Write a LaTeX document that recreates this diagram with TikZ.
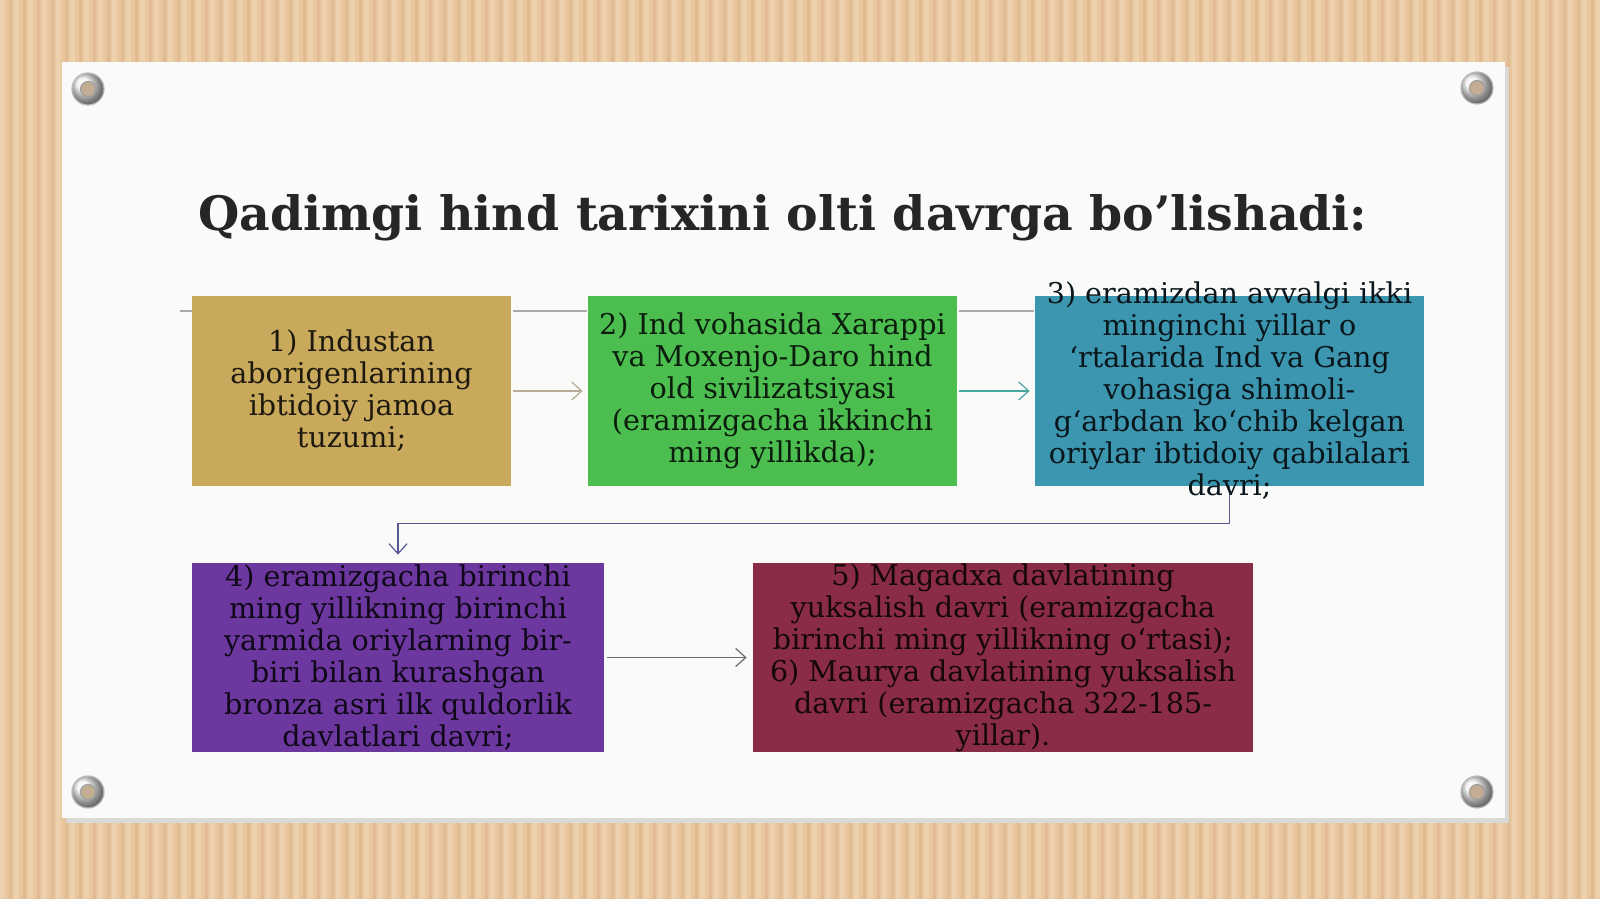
\documentclass[tikz,border=0pt]{standalone}
\usepackage{fontspec}
\setmainfont{DejaVu Serif}
\usepackage{tikz}
\usetikzlibrary{arrows.meta, positioning, calc}

\definecolor{wood}{RGB}{232,198,158}
\definecolor{woodlight}{RGB}{237,208,172}
\definecolor{wooddark}{RGB}{224,186,144}
\definecolor{paper}{RGB}{250,250,249}
\definecolor{boxgold}{RGB}{201,169,92}
\definecolor{boxgreen}{RGB}{76,190,80}
\definecolor{boxteal}{RGB}{60,150,176}
\definecolor{boxpurple}{RGB}{108,56,160}
\definecolor{boxmaroon}{RGB}{138,44,70}
\definecolor{linkgray}{RGB}{170,170,170}
\definecolor{linktan}{RGB}{185,172,150}
\definecolor{linkteal}{RGB}{70,165,160}
\definecolor{linkblue}{RGB}{88,88,150}
\definecolor{linkdark}{RGB}{105,105,115}

\begin{document}
\begin{tikzpicture}[
    x=0.5pt, y=-0.5pt,
    box/.style={rectangle, inner sep=0pt, draw=none},
    boxtext/.style={align=center, inner sep=0pt, font=\fontsize{14.3}{16}\selectfont},
    arrow/.style={-{Straight Barb[length=5pt, width=9pt]}, line width=0.6pt},
    bar/.style={linkgray, line width=1pt},
    screw/.style={circle, minimum size=16pt, inner sep=0pt, shade, ball color=gray!12, draw=gray!55, line width=0.6pt},
    hole/.style={circle, minimum size=7.5pt, inner sep=0pt, fill=gray!35!wood, draw=gray!75, line width=0.6pt},
]

% Wood background
\useasboundingbox (0,0) rectangle (1600,899);
\clip (0,0) rectangle (1600,899);
\fill[wood] (0,0) rectangle (1600,899);
\foreach \x in {0,14,...,1600} {
  \fill[woodlight] (\x,0) rectangle ++(5,899);
  \fill[wooddark] (\x+9,0) rectangle ++(3,899);
}

% Paper sheet
\fill[black!15] (66,67) rectangle (1509,823);
\fill[paper] (62,62) rectangle (1505,818);

% Screws
\foreach \px/\py/\nm in {88/89/tl, 1477/88/tr, 88/792/bl, 1477/792/br} {
  \node[screw] (screw\nm) at (\px,\py) {};
  \node[hole] (hole\nm) at (screw\nm.center) {};
}

% Title
\node[anchor=base, font=\fontsize{23.7}{28}\selectfont\bfseries, text=black!85] (title) at (783,230) {Qadimgi hind tarixini olti davrga bo’lishadi:};

% Boxes
\node[box, fill=boxgold, minimum width=159.5pt, minimum height=95pt] (b1) at (351.5,391) {};
\node[box, fill=boxgreen, minimum width=184.5pt, minimum height=95pt] (b2) at (772.5,391) {};
\node[box, fill=boxteal, minimum width=194.5pt, minimum height=95pt] (b3) at (1229.5,391) {};
\node[box, fill=boxpurple, minimum width=206pt, minimum height=94.5pt] (b4) at (398,657.5) {};
\node[box, fill=boxmaroon, minimum width=250pt, minimum height=94.5pt] (b5) at (1003,657.5) {};

% Thin bars along the top row
\coordinate (stub) at (180,311);
\draw[bar] (stub) -- (stub -| b1.west);
\draw[bar] ([xshift=1pt, yshift=-7.5pt]b1.north east) -- ([xshift=-0.5pt, yshift=-7.5pt]b2.north west);
\draw[bar] ([xshift=1pt, yshift=-7.5pt]b2.north east) -- ([xshift=-0.5pt, yshift=-7.5pt]b3.north west);

% Arrows
\draw[arrow, linktan] (b1.east) ++(1pt,0) -- ([xshift=-2.5pt]b2.west);
\draw[arrow, linkteal] (b2.east) ++(1pt,0) -- ([xshift=-2.5pt]b3.west);
\draw[arrow, linkblue] (b3.south) -- ++(0,37) -| ([yshift=4pt]b4.north);
\draw[arrow, linkdark] (b4.east) ++(1.5pt,0) -- ([xshift=-3pt]b5.west);

% Box texts
\node[boxtext, text=black!85!boxgold] (t1) at (b1.center) {1) Industan\\aborigenlarining\\ibtidoiy jamoa\\tuzumi;};
\node[boxtext, text=black!85!boxgreen] (t2) at (b2.center) {2) Ind vohasida Xarappi\\va Moxenjo-Daro hind\\old sivilizatsiyasi\\(eramizgacha ikkinchi\\ming yillikda);};
\node[boxtext, text=black!85!boxteal] (t3) at (b3.center) {3) eramizdan avvalgi ikki\\minginchi yillar o\\‘rtalarida Ind va Gang\\vohasiga shimoli-\\g‘arbdan ko‘chib kelgan\\oriylar ibtidoiy qabilalari\\davri;};
\node[boxtext, text=black!85!boxpurple] (t4) at (b4.center) {4) eramizgacha birinchi\\ming yillikning birinchi\\yarmida oriylarning bir-\\biri bilan kurashgan\\bronza asri ilk quldorlik\\davlatlari davri;};
\node[boxtext, text=black!85!boxmaroon] (t5) at (b5.center) {5) Magadxa davlatining\\yuksalish davri (eramizgacha\\birinchi ming yillikning oʻrtasi);\\6) Maurya davlatining yuksalish\\davri (eramizgacha 322-185-\\yillar).};

\end{tikzpicture}
\end{document}
